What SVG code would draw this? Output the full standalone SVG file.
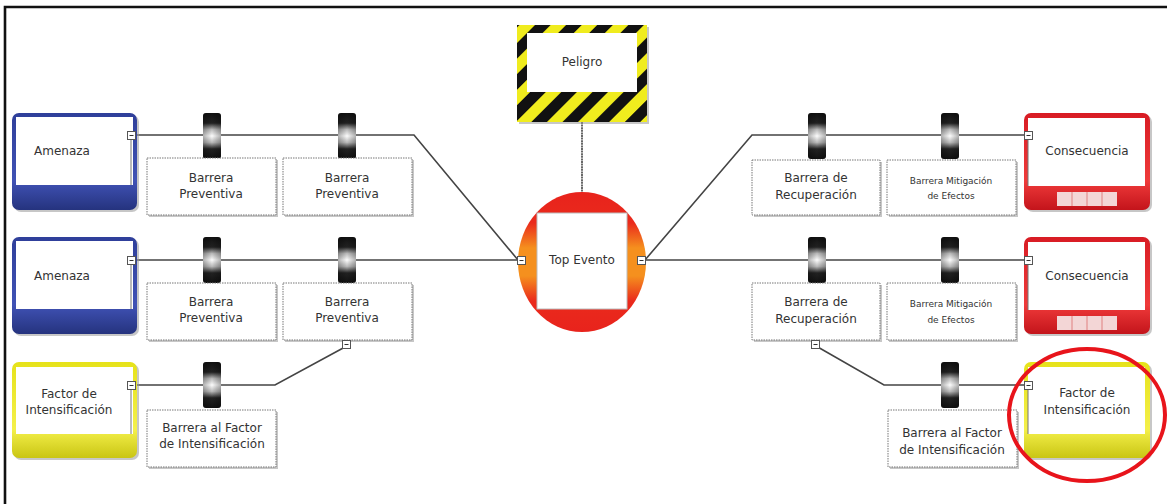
<svg xmlns="http://www.w3.org/2000/svg" width="1167" height="504" viewBox="0 0 1167 504">
  <defs>
    <style>
      .lbl{font-family:"DejaVu Sans","Liberation Sans",sans-serif;font-size:12px;fill:#333;text-anchor:middle}
      .sm{font-size:9px}
      .wire{fill:none;stroke:#444;stroke-width:1.6}
      .bbox{fill:#fff;stroke:#777;stroke-width:1;stroke-dasharray:1.5 1}
      .shadow{fill:#999;opacity:.55}
      .inner{fill:#fff}
    </style>
    <linearGradient id="barrel" x1="0" y1="0" x2="0" y2="1">
      <stop offset="0" stop-color="#111"/>
      <stop offset="0.22" stop-color="#222"/>
      <stop offset="0.36" stop-color="#bbb"/>
      <stop offset="0.5" stop-color="#fdfdfd"/>
      <stop offset="0.64" stop-color="#bbb"/>
      <stop offset="0.78" stop-color="#222"/>
      <stop offset="1" stop-color="#111"/>
    </linearGradient>
    <linearGradient id="barrelSide" x1="0" y1="0" x2="1" y2="0">
      <stop offset="0" stop-color="#000" stop-opacity="0.3"/>
      <stop offset="0.5" stop-color="#000" stop-opacity="0"/>
      <stop offset="1" stop-color="#000" stop-opacity="0.3"/>
    </linearGradient>
    <linearGradient id="blueFill" x1="0" y1="0" x2="0" y2="1">
      <stop offset="0" stop-color="#2f3f9a"/>
      <stop offset="0.7" stop-color="#4052b5"/>
      <stop offset="1" stop-color="#25337e"/>
    </linearGradient>
    <linearGradient id="redFill" x1="0" y1="0" x2="0" y2="1">
      <stop offset="0" stop-color="#d81c24"/>
      <stop offset="0.7" stop-color="#ef3a3a"/>
      <stop offset="1" stop-color="#c3141b"/>
    </linearGradient>
    <linearGradient id="yellowFill" x1="0" y1="0" x2="0" y2="1">
      <stop offset="0" stop-color="#e6e21a"/>
      <stop offset="0.7" stop-color="#f4f04a"/>
      <stop offset="1" stop-color="#c9c514"/>
    </linearGradient>
    <linearGradient id="topFill" x1="0" y1="0" x2="0" y2="1">
      <stop offset="0" stop-color="#e8231c"/>
      <stop offset="0.22" stop-color="#ea2a1c"/>
      <stop offset="0.4" stop-color="#f5901e"/>
      <stop offset="0.6" stop-color="#f5901e"/>
      <stop offset="0.78" stop-color="#ea2a1c"/>
      <stop offset="1" stop-color="#e8231c"/>
    </linearGradient>
    <pattern id="hazard" patternUnits="userSpaceOnUse" width="22" height="22" patternTransform="rotate(45)">
      <rect width="22" height="22" fill="#f0ec1e"/>
      <rect width="11" height="22" fill="#111"/>
    </pattern>
    <symbol id="barrier" viewBox="0 0 18 46" overflow="visible">
      <rect x="0" y="0" width="18" height="46" rx="3" fill="url(#barrel)"/>
      <rect x="0" y="0" width="18" height="46" rx="3" fill="url(#barrelSide)"/>
    </symbol>
    <symbol id="collapse" viewBox="0 0 9 9" overflow="visible">
      <rect x="0.5" y="0.5" width="8" height="8" fill="#fff" stroke="#555"/>
      <line x1="2.5" y1="4.5" x2="6.5" y2="4.5" stroke="#333"/>
    </symbol>
  </defs>

  <!-- frame -->
  <rect width="1167" height="504" fill="#fff"/>
  <path d="M5,504 V7 H1167" fill="none" stroke="#111" stroke-width="2.6"/>

  <!-- connectors -->
  <g id="connectors">
    <path class="wire" d="M137,135 H414 L518,260"/>
    <path class="wire" d="M137,260 H518"/>
    <path class="wire" d="M137,385 H275 L345,347"/>
    <path class="wire" d="M582,122 V192" stroke="#555" stroke-width="2" stroke-dasharray="2 0.6"/>
    <path class="wire" d="M645,260 L752,135 H1024"/>
    <path class="wire" d="M645,260 H1024"/>
    <path class="wire" d="M816,346 L884,385 H1024"/>
  </g>

  <!-- Peligro -->
  <g id="peligro">
    <rect x="519" y="27" width="130" height="97" class="shadow"/>
    <rect x="517" y="25" width="130" height="97" fill="url(#hazard)"/>
    <rect x="527" y="33" width="110" height="59" class="inner"/>
    <text class="lbl" x="582" y="66">Peligro</text>
  </g>

  <!-- Top Evento -->
  <g id="top-evento">
    <ellipse cx="582" cy="262" rx="64" ry="70" fill="url(#topFill)"/>
    <rect x="537" y="213" width="90" height="96" fill="#fff" stroke="#bbb"/>
    <text class="lbl" x="582" y="264">Top Evento</text>
    <use href="#collapse" x="517" y="256" width="9" height="9"/>
    <use href="#collapse" x="637" y="256" width="9" height="9"/>
  </g>

  <!-- Amenaza 1 -->
  <g id="amenaza-1">
    <rect x="14" y="115" width="125" height="97" rx="7" class="shadow"/>
    <rect x="12" y="113" width="125" height="97" rx="7" fill="url(#blueFill)"/>
    <rect x="16" y="117" width="117" height="68" class="inner"/>
    <line x1="131" y1="140" x2="131" y2="185" stroke="#777"/>
    <text class="lbl" x="62" y="155">Amenaza</text>
    <use href="#collapse" x="127" y="131" width="9" height="9"/>
  </g>

  <!-- Amenaza 2 -->
  <g id="amenaza-2">
    <rect x="14" y="239" width="125" height="97" rx="7" class="shadow"/>
    <rect x="12" y="237" width="125" height="97" rx="7" fill="url(#blueFill)"/>
    <rect x="16" y="241" width="117" height="68" class="inner"/>
    <line x1="131" y1="265" x2="131" y2="309" stroke="#777"/>
    <text class="lbl" x="62" y="280">Amenaza</text>
    <use href="#collapse" x="127" y="256" width="9" height="9"/>
  </g>

  <!-- Factor de Intensificación (left) -->
  <g id="factor-izq">
    <rect x="14" y="364" width="125" height="96" rx="7" class="shadow"/>
    <rect x="12" y="362" width="125" height="96" rx="7" fill="url(#yellowFill)"/>
    <rect x="16" y="367" width="117" height="67" class="inner"/>
    <line x1="131" y1="390" x2="131" y2="434" stroke="#777"/>
    <text class="lbl" x="69" y="398">Factor de</text>
    <text class="lbl" x="69" y="414">Intensificación</text>
    <use href="#collapse" x="127" y="381" width="9" height="9"/>
  </g>

  <!-- preventive barriers, row 1 -->
  <g id="barrera-preventiva-1a">
    <use href="#barrier" x="203" y="113" width="18" height="46"/>
    <rect x="149" y="160" width="129" height="57" class="shadow"/>
    <rect x="147" y="158" width="129" height="57" class="bbox"/>
    <text class="lbl" x="211" y="182">Barrera</text>
    <text class="lbl" x="211" y="198">Preventiva</text>
  </g>
  <g id="barrera-preventiva-1b">
    <use href="#barrier" x="338" y="113" width="18" height="46"/>
    <rect x="285" y="160" width="129" height="57" class="shadow"/>
    <rect x="283" y="158" width="129" height="57" class="bbox"/>
    <text class="lbl" x="347" y="182">Barrera</text>
    <text class="lbl" x="347" y="198">Preventiva</text>
  </g>

  <!-- preventive barriers, row 2 -->
  <g id="barrera-preventiva-2a">
    <use href="#barrier" x="203" y="237" width="18" height="46"/>
    <rect x="149" y="285" width="129" height="57" class="shadow"/>
    <rect x="147" y="283" width="129" height="57" class="bbox"/>
    <text class="lbl" x="211" y="306">Barrera</text>
    <text class="lbl" x="211" y="322">Preventiva</text>
  </g>
  <g id="barrera-preventiva-2b">
    <use href="#barrier" x="338" y="237" width="18" height="46"/>
    <rect x="285" y="285" width="129" height="57" class="shadow"/>
    <rect x="283" y="283" width="129" height="57" class="bbox"/>
    <text class="lbl" x="347" y="306">Barrera</text>
    <text class="lbl" x="347" y="322">Preventiva</text>
    <use href="#collapse" x="342" y="340" width="9" height="9"/>
  </g>

  <!-- escalation barrier, left -->
  <g id="barrera-factor-izq">
    <use href="#barrier" x="203" y="362" width="18" height="46"/>
    <rect x="149" y="412" width="129" height="57" class="shadow"/>
    <rect x="147" y="410" width="129" height="57" class="bbox"/>
    <text class="lbl" x="212" y="432">Barrera al Factor</text>
    <text class="lbl" x="212" y="448">de Intensificación</text>
  </g>

  <!-- recovery barriers, row 1 -->
  <g id="barrera-recuperacion-1">
    <use href="#barrier" x="808" y="113" width="18" height="46"/>
    <rect x="754" y="162" width="128" height="55" class="shadow"/>
    <rect x="752" y="160" width="128" height="55" class="bbox"/>
    <text class="lbl" x="816" y="182">Barrera de</text>
    <text class="lbl" x="816" y="199">Recuperación</text>
  </g>
  <g id="barrera-mitigacion-1">
    <use href="#barrier" x="941" y="113" width="18" height="46"/>
    <rect x="889" y="162" width="129" height="55" class="shadow"/>
    <rect x="887" y="160" width="129" height="55" class="bbox"/>
    <text class="lbl sm" x="951" y="184">Barrera Mitigación</text>
    <text class="lbl sm" x="951" y="199">de Efectos</text>
  </g>

  <!-- recovery barriers, row 2 -->
  <g id="barrera-recuperacion-2">
    <use href="#barrier" x="808" y="237" width="18" height="46"/>
    <rect x="754" y="285" width="128" height="57" class="shadow"/>
    <rect x="752" y="283" width="128" height="57" class="bbox"/>
    <text class="lbl" x="816" y="306">Barrera de</text>
    <text class="lbl" x="816" y="323">Recuperación</text>
    <use href="#collapse" x="811" y="340" width="9" height="9"/>
  </g>
  <g id="barrera-mitigacion-2">
    <use href="#barrier" x="941" y="237" width="18" height="46"/>
    <rect x="889" y="285" width="129" height="57" class="shadow"/>
    <rect x="887" y="283" width="129" height="57" class="bbox"/>
    <text class="lbl sm" x="951" y="307">Barrera Mitigación</text>
    <text class="lbl sm" x="951" y="323">de Efectos</text>
  </g>

  <!-- escalation barrier, right -->
  <g id="barrera-factor-der">
    <use href="#barrier" x="941" y="362" width="18" height="46"/>
    <rect x="890" y="412" width="129" height="57" class="shadow"/>
    <rect x="888" y="410" width="129" height="57" class="bbox"/>
    <text class="lbl" x="952" y="437">Barrera al Factor</text>
    <text class="lbl" x="952" y="454">de Intensificación</text>
  </g>

  <!-- Consecuencia 1 -->
  <g id="consecuencia-1">
    <rect x="1026" y="115" width="126" height="97" rx="7" class="shadow"/>
    <rect x="1024" y="113" width="126" height="97" rx="7" fill="url(#redFill)"/>
    <rect x="1028" y="118" width="117" height="68" class="inner"/>
    <line x1="1028" y1="140" x2="1028" y2="186" stroke="#777"/>
    <rect x="1057" y="192" width="60" height="14" fill="#f3d6d6"/>
    <path d="M1072,192 V206 M1087,192 V206 M1102,192 V206" stroke="#e08080"/>
    <text class="lbl" x="1087" y="155">Consecuencia</text>
    <use href="#collapse" x="1024" y="131" width="9" height="9"/>
  </g>

  <!-- Consecuencia 2 -->
  <g id="consecuencia-2">
    <rect x="1026" y="239" width="126" height="97" rx="7" class="shadow"/>
    <rect x="1024" y="237" width="126" height="97" rx="7" fill="url(#redFill)"/>
    <rect x="1028" y="242" width="117" height="68" class="inner"/>
    <line x1="1028" y1="265" x2="1028" y2="310" stroke="#777"/>
    <rect x="1057" y="316" width="60" height="14" fill="#f3d6d6"/>
    <path d="M1072,316 V330 M1087,316 V330 M1102,316 V330" stroke="#e08080"/>
    <text class="lbl" x="1087" y="280">Consecuencia</text>
    <use href="#collapse" x="1024" y="256" width="9" height="9"/>
  </g>

  <!-- Factor de Intensificación (right) -->
  <g id="factor-der">
    <rect x="1026" y="364" width="126" height="96" rx="7" class="shadow"/>
    <rect x="1024" y="362" width="126" height="96" rx="7" fill="url(#yellowFill)"/>
    <rect x="1028" y="367" width="117" height="67" class="inner"/>
    <line x1="1028" y1="390" x2="1028" y2="434" stroke="#777"/>
    <text class="lbl" x="1087" y="397">Factor de</text>
    <text class="lbl" x="1087" y="414">Intensificación</text>
    <use href="#collapse" x="1024" y="381" width="9" height="9"/>
  </g>

  <!-- highlight ring -->
  <g id="resaltado">
    <ellipse cx="1087" cy="415" rx="78" ry="66" fill="none" stroke="#e8141b" stroke-width="4"/>
  </g>
</svg>
